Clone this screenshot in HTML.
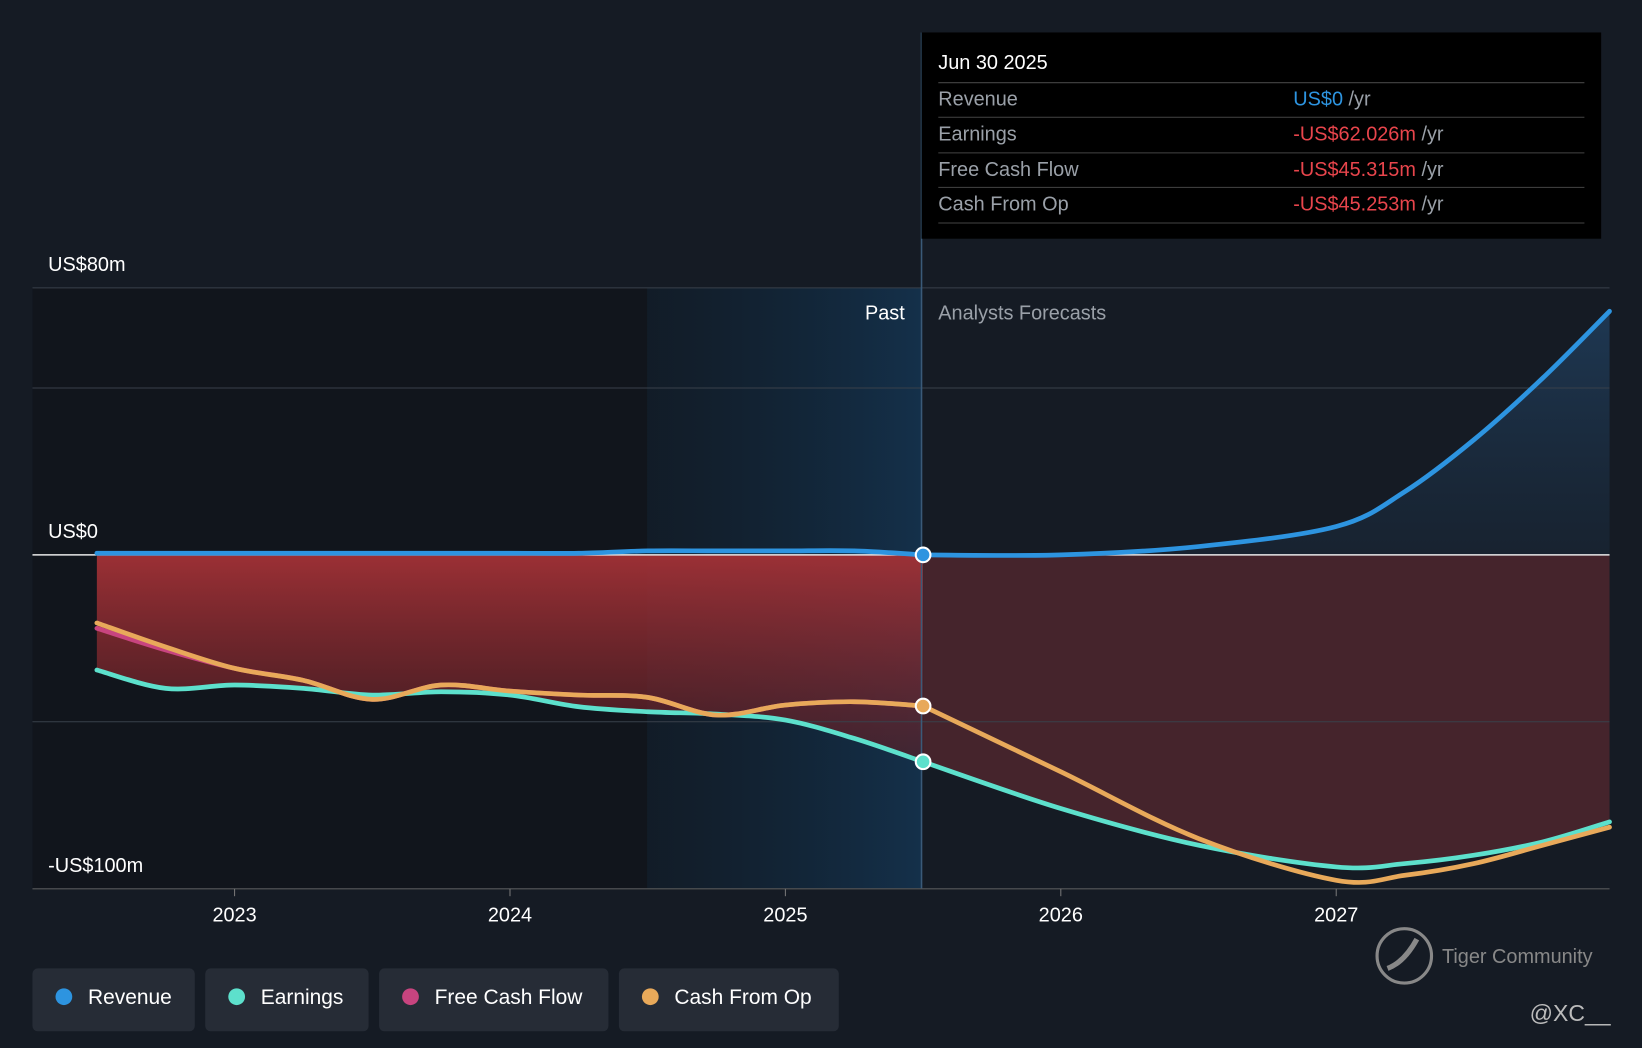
<!DOCTYPE html>
<html><head><meta charset="utf-8"><style>
html,body{margin:0;padding:0;background:#151b24;}
svg{display:block;font-family:"Liberation Sans",sans-serif;}
</style></head><body>
<svg id="chart" width="1642" height="1048" viewBox="0 0 1568 1001" preserveAspectRatio="none" xmlns="http://www.w3.org/2000/svg">
<defs>
<linearGradient id="pastGrad" x1="0" x2="1" y1="0" y2="0"><stop offset="0" stop-color="#0f1d2a" stop-opacity="0.6"/><stop offset="1" stop-color="#14304a"/></linearGradient>
<linearGradient id="redPast" x1="0" x2="0" y1="0" y2="1"><stop offset="0" stop-color="#a33136" stop-opacity="0.95"/><stop offset="1" stop-color="#5a1f25" stop-opacity="0.6"/></linearGradient>
<linearGradient id="blueFill" x1="0" x2="0" y1="0" y2="1"><stop offset="0" stop-color="#1f3b58" stop-opacity="0.9"/><stop offset="1" stop-color="#1a2a3c" stop-opacity="0.5"/></linearGradient>
</defs>
<rect x="0" y="0" width="1568" height="1001" fill="#151b24"/>
<rect x="31" y="275" width="587" height="574" fill="#11151c"/>
<rect x="618" y="275" width="262" height="574" fill="url(#pastGrad)"/>
<g id="fills"></g>
<g id="grid"></g>
<g id="lines"></g>
<line x1="880" y1="31" x2="880" y2="849" stroke="#3a5a78" stroke-width="1.5"/>
<text x="864" y="305" fill="#ffffff" font-size="19" text-anchor="end">Past</text>
<text x="896" y="305" fill="#9aa0a8" font-size="19">Analysts Forecasts</text>
<g id="dots"></g>
<g id="xticks"></g>
<g>
<rect x="880" y="31" width="649" height="197" fill="#000"/>
<text x="896" y="66" fill="#fff" font-size="19">Jun 30 2025</text>
<line x1="896" y1="79" x2="1513" y2="79" stroke="#444"/>
<text x="896" y="101" fill="#9aa0a8" font-size="19">Revenue</text><text x="1235" y="101" font-size="19" fill="#2d94e0">US$0 <tspan fill="#9aa0a8">/yr</tspan></text>
<line x1="896" y1="112" x2="1513" y2="112" stroke="#444"/>
<text x="896" y="134" fill="#9aa0a8" font-size="19">Earnings</text><text x="1235" y="134" font-size="19" fill="#e8454c">-US$62.026m <tspan fill="#9aa0a8">/yr</tspan></text>
<line x1="896" y1="146" x2="1513" y2="146" stroke="#444"/>
<text x="896" y="168" fill="#9aa0a8" font-size="19">Free Cash Flow</text><text x="1235" y="168" font-size="19" fill="#e8454c">-US$45.315m <tspan fill="#9aa0a8">/yr</tspan></text>
<line x1="896" y1="179" x2="1513" y2="179" stroke="#444"/>
<text x="896" y="201" fill="#9aa0a8" font-size="19">Cash From Op</text><text x="1235" y="201" font-size="19" fill="#e8454c">-US$45.253m <tspan fill="#9aa0a8">/yr</tspan></text>
<line x1="896" y1="213" x2="1513" y2="213" stroke="#444"/>
</g>
<g id="legend"></g>
<g>
<circle cx="1341" cy="913" r="26" fill="none" stroke="#888" stroke-width="3"/>
<path d="M1325 925 q16 -6 28 -28" stroke="#888" stroke-width="5" fill="none"/>
<text x="1377" y="920" fill="#888" font-size="19">Tiger Community</text>
<text x="1538" y="975" fill="#bbb" font-size="22" text-anchor="end">@XC__</text>
</g>
</svg>
<script>
const years=[2022.5,2022.75,2023,2023.25,2023.5,2023.75,2024,2024.25,2024.5,2024.75,2025,2025.25,2025.5];
const fYears=[2025.5,2026,2026.5,2027,2027.25,2027.5,2027.75,2028];
const revenuePast=[0.5,0.5,0.5,0.5,0.5,0.5,0.5,0.5,1.2,1.2,1.2,1.2,0];
const revenueFc=[0,0,2.5,8.5,19,34.5,53,73];
const earningsPast=[-34.5,-40,-39,-40,-42,-41,-42,-45.5,-47,-47.7,-49.5,-55,-62];
const earningsFc=[-62,-76,-87,-93.5,-92.5,-90,-86,-80];
const fcfPast=[-22,-28.5,-34,-37.6,-43.3,-39,-40.8,-42,-42.7,-48,-45,-44,-45.3];
const cfoPast=[-20.4,-27.6,-34,-37.6,-43.3,-39,-40.8,-42,-42.7,-48,-45,-44,-45.3];
const cfoFc=[-45.3,-65,-85,-97.5,-96,-92.5,-87,-81.6];
const yTicks=[80,0,-100];
const yTickLabels=['US$80m','US$0','-US$100m'];
const gridVals=[80,50,0,-50,-100];
const xTicks=[2023,2024,2025,2026,2027];
const NS='http://www.w3.org/2000/svg';
const X=t=>224+(t-2023)*263;
const Y=v=>530-v*3.1875;
function el(tag,attrs,parent){const e=document.createElementNS(NS,tag);for(const k in attrs)e.setAttribute(k,attrs[k]);parent.appendChild(e);return e;}
function path(xs,vs){const p=xs.map((t,i)=>[Math.min(X(t),1537),Y(vs[i])]);let d='M'+p[0][0]+','+p[0][1];
for(let i=0;i<p.length-1;i++){const p0=p[i-1]||p[i],p1=p[i],p2=p[i+1],p3=p[i+2]||p2;
d+=' C'+(p1[0]+(p2[0]-p0[0])/6)+','+(p1[1]+(p2[1]-p0[1])/6)+' '+(p2[0]-(p3[0]-p1[0])/6)+','+(p2[1]-(p3[1]-p1[1])/6)+' '+p2[0]+','+p2[1];}return d;}
const grid=document.getElementById('grid');
gridVals.forEach(v=>{const l=el('line',{x1:31,x2:1537,y1:Y(v),y2:Y(v),stroke:v===0?'#e8e8e8':'#39404a','stroke-width':v===0?1.5:1},grid);

});
yTicks.forEach((v,i)=>{const t=el('text',{x:46,y:Y(v)-16,fill:'#fff','font-size':19},grid);t.textContent=yTickLabels[i];

});
const fills=document.getElementById('fills');
const fp=el('path',{d:path(years,earningsPast)+' L'+X(2025.5)+','+Y(0)+' L'+X(2022.5)+','+Y(0)+'Z',fill:'url(#redPast)'},fills);


const ff=el('path',{d:path(fYears,earningsFc)+' L1537,'+Y(0)+' L'+X(2025.5)+','+Y(0)+'Z',fill:'#45242c'},fills);


const rf=el('path',{d:path(fYears,revenueFc)+' L1537,'+Y(0)+' L'+X(2025.5)+','+Y(0)+'Z',fill:'url(#blueFill)'},fills);


const lines=document.getElementById('lines');
const series=[['fcf-line',years,fcfPast,'#c8447f'],['earnings-line',years,earningsPast,'#5de0cc'],['earnings-forecast-line',fYears,earningsFc,'#5de0cc'],['cash-from-op-line',years,cfoPast,'#e8a95a'],['cash-from-op-forecast-line',fYears,cfoFc,'#e8a95a'],['revenue-line',years,revenuePast,'#2d94e0'],['revenue-forecast-line',fYears,revenueFc,'#2d94e0']];
series.forEach(s=>{const p=el('path',{d:path(s[1],s[2]),fill:'none',stroke:s[3],'stroke-width':4.5,'stroke-linecap':'round'},lines);

});
const dots=document.getElementById('dots');
[[revenuePast,'#2d94e0','revenue-dot'],[cfoPast,'#e8a95a','cash-from-op-dot'],[earningsPast,'#5de0cc','earnings-dot']].forEach(d=>{
const c=el('circle',{cx:X(2025.5),cy:Y(d[0][d[0].length-1]),r:7,fill:d[1],stroke:'#fff','stroke-width':2},dots);

});
const xt=document.getElementById('xticks');
el('line',{x1:31,x2:1537,y1:849,y2:849,stroke:'#555'},xt);
xTicks.forEach(t=>{el('line',{x1:X(t),x2:X(t),y1:849,y2:856,stroke:'#777'},xt);
const tx=el('text',{x:X(t),y:880,fill:'#fff','font-size':19,'text-anchor':'middle'},xt);tx.textContent=t;

});
const legendItems=[['Revenue','#2d94e0',31,155],['Earnings','#5de0cc',196,156],['Free Cash Flow','#c8447f',362,219],['Cash From Op','#e8a95a',591,210]];
const lg=document.getElementById('legend');
legendItems.forEach(it=>{const g=el('g',{},lg);


el('rect',{x:it[2],y:925,width:it[3],height:60,rx:5,fill:'#262c36'},g);
el('circle',{cx:it[2]+30,cy:952,r:8,fill:it[1]},g);
const t=el('text',{x:it[2]+53,y:959,fill:'#fff','font-size':20},g);t.textContent=it[0];});
</script>
</body></html>
